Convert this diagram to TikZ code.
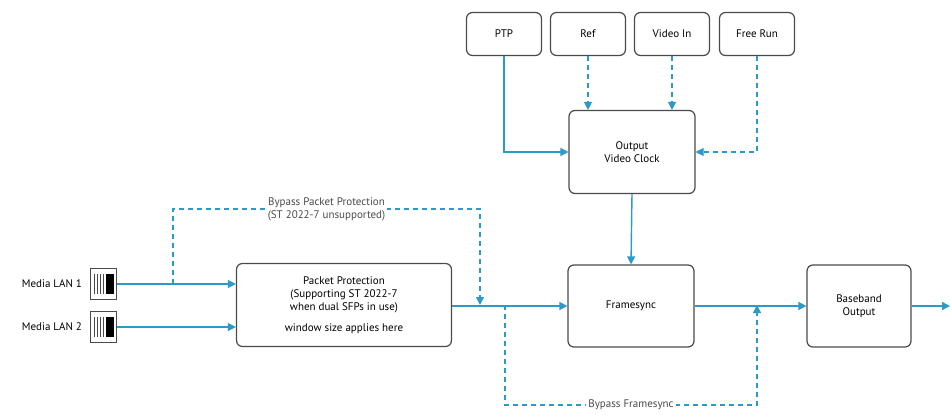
\documentclass[tikz,border=0pt]{standalone}
\usepackage{fontspec}
\setmainfont{PT Sans}
\usetikzlibrary{arrows.meta,positioning}
\definecolor{linkblue}{HTML}{2A9BC8}
\definecolor{boxgray}{HTML}{4A4A4A}
\tikzset{
  blk/.style={draw=boxgray, line width=1.2pt, rounded corners=6pt, fill=white, align=center, font=\fontsize{11}{13}\selectfont},
  flow/.style={-{Triangle[length=8pt,width=8pt]}, linkblue, line width=1.4pt},
  alt/.style={flow, dashed, dash pattern=on 5pt off 4pt},
  lbl/.style={font=\fontsize{11}{13}\selectfont, text=boxgray, fill=white, inner sep=2pt, align=center}
}
\begin{document}
\begin{tikzpicture}[x=1pt,y=-1pt]
    \useasboundingbox (0,0) rectangle (951,415);

    % Clock sources
    \node[blk, minimum width=75pt, minimum height=43pt] (ptp) at (504,34) {PTP};
    \node[blk, minimum width=75pt, minimum height=43pt] (ref) at (588,34) {Ref};
    \node[blk, minimum width=75pt, minimum height=43pt] (vin) at (672,34) {Video In};
    \node[blk, minimum width=75pt, minimum height=43pt] (free) at (757,34) {Free Run};

    % Processing blocks
    \node[blk, minimum width=126pt, minimum height=83pt] (clk) at (632,152) {Output\\Video Clock};
    \node[blk, minimum width=126pt, minimum height=82pt] (fs) at (631,306) {Framesync};
    \node[blk, minimum width=104pt, minimum height=82pt] (bb) at (859,306) {Baseband\\Output};
    \node[blk, minimum width=215pt, minimum height=83pt] (pp) at (344,305) {Packet Protection\\(Supporting ST 2022-7\\when dual SFPs in use)\\[8pt]window size applies here};

    % Network ports
    \foreach \n/\y/\t in {lan1/284/Media LAN 1, lan2/327/Media LAN 2} {
        \node[draw=boxgray, line width=1pt, minimum width=26pt, minimum height=31pt, inner sep=0pt] (\n) at (103,\y) {};
        \foreach \k in {0,...,3}
            \draw[boxgray, line width=0.8pt] (94+\k*3,\y-10) -- (94+\k*3,\y+10);
        \fill[black] (106,\y-10) rectangle (114,\y+10);
        \node[left=4pt of \n, font=\fontsize{11}{13}\selectfont] {\t};
    }

    % Junction points
    \coordinate (tap1) at (173,284);
    \coordinate (join1) at (480,305);
    \coordinate (tap2) at (505,305);
    \coordinate (join2) at (757,305);

    % Main path
    \draw[flow] (lan1.east) -- (pp.west |- lan1);
    \draw[flow] (lan2.east) -- (pp.west |- lan2);
    \draw[flow] (pp.east |- fs) -- (fs.west);
    \draw[flow] (fs.east) -- (bb.west);
    \draw[flow] (bb.east) -- (950,306);
    \draw[flow] (clk.south) -- (fs.north);

    % Clock inputs
    \draw[flow] (ptp.south) |- (clk.west);
    \draw[alt] (ref.south) -- (ref.south |- clk.north);
    \draw[alt] (vin.south) -- (vin.south |- clk.north);
    \draw[alt] (free.south) |- (clk.east);

    % Bypass routes
    \draw[alt] (tap1) -- (173,209) -- node[lbl] {Bypass Packet Protection\\(ST 2022-7 unsupported)} (480,209) -- (join1);
    \draw[alt] (tap2) -- (505,405) -- node[lbl] {Bypass Framesync} (757,405) -- (join2);
\end{tikzpicture}
\end{document}
